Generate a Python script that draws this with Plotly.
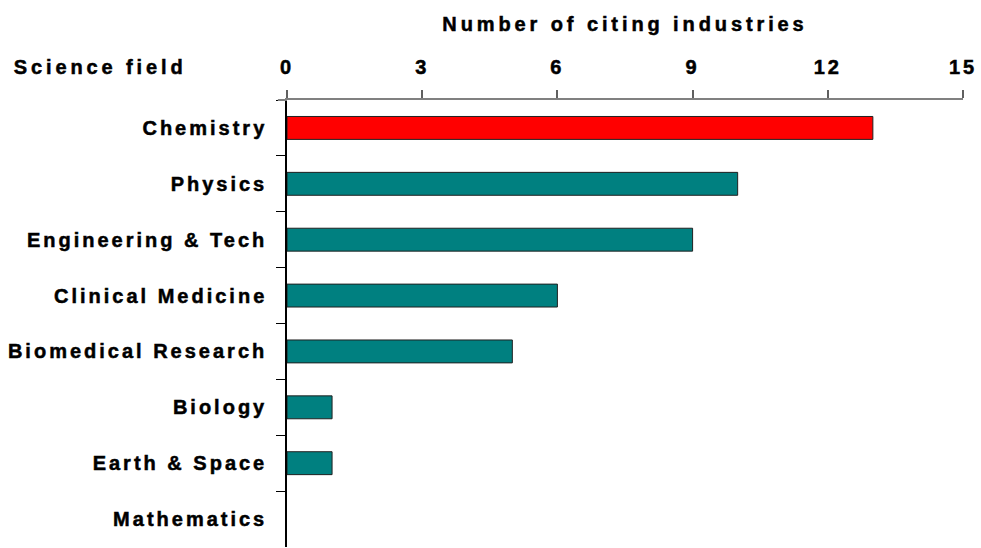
import plotly.graph_objects as go

fields = ["Chemistry", "Physics", "Engineering & Tech", "Clinical Medicine",
          "Biomedical Research", "Biology", "Earth & Space", "Mathematics"]
industries = [13, 10, 9, 6, 5, 1, 1, 0]
bar_colors = ["#FF0000"] + ["#008080"] * 7
x_ticks = [0, 3, 6, 9, 12, 15]

FONT = "Liberation Sans, Arial, sans-serif"

fig = go.Figure(go.Bar(
    x=industries, y=fields, orientation="h",
    marker=dict(color=bar_colors,
                line=dict(color="#202020", width=[1 if v > 0 else 0 for v in industries])),
    width=0.41,
))

fig.update_layout(
    width=981, height=548,
    margin=dict(l=287, r=18, t=100, b=1),
    plot_bgcolor="white", paper_bgcolor="white",
    showlegend=False,
    font=dict(family=FONT, size=20, color="black"),
    xaxis=dict(
        side="top", range=[0, 15], tickvals=x_ticks, ticktext=[str(v) for v in x_ticks],
        showgrid=False, zeroline=False, showline=True, linecolor="#808080", linewidth=2,
        ticks="outside", ticklen=8, tickcolor="#606060", tickwidth=2,
        tickfont=dict(family=FONT, size=20, color="black", weight="bold"),
        ticklabelstandoff=8,
        title=dict(text="<b>Number of citing industries</b>", font=dict(size=20), standoff=19),
    ),
    yaxis=dict(
        autorange="reversed", showgrid=False, zeroline=False,
        showline=True, linecolor="black", linewidth=1.5,
        ticks="outside", tickson="boundaries", ticklen=9, tickcolor="black",
        tickfont=dict(family=FONT, size=20, color="black", weight="bold"),
        ticklabelstandoff=14,
    ),
    annotations=[dict(
        text="<b>Science field</b>", xref="paper", yref="paper",
        x=-0.2759, y=1.0, xanchor="center", yanchor="bottom", yshift=20,
        showarrow=False, font=dict(family=FONT, size=20, color="black"),
    )],
    shapes=[dict(type="line", xref="paper", yref="paper", x0=-0.0135, x1=0, y0=1, y1=1,
                 line=dict(color="#808080", width=2))],
)

post = """
document.body.style.margin = '0';
var st = document.createElement('style');
st.textContent = '.xtick text, .ytick text { letter-spacing: 3px; } '
  + '.xtitle, .annotation-text { letter-spacing: 3.9px; } '
  + '.xtick text, .ytick text, .xtitle, .annotation-text { stroke: #000; stroke-width: 0.5px; }';
document.head.appendChild(st);
"""

fig.write_html("out.html", post_script=post, config={"displayModeBar": False})
